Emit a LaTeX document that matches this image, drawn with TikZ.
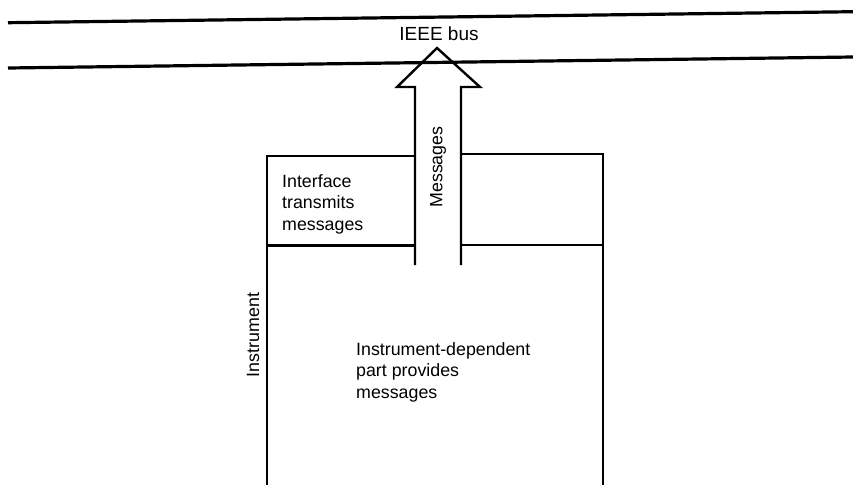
\documentclass[tikz,border=0pt]{standalone}
\usepackage{fontspec}
\setmainfont{Liberation Sans}
\usepackage{tikz}
\usetikzlibrary{positioning}

\begin{document}
\begin{tikzpicture}[
  x=1pt, y=-1pt,
  busline/.style={line width=3.2pt},
  wall/.style={line width=2.4pt, line join=miter},
  lbl/.style={align=left, inner sep=0pt, font=\fontsize{17.8}{21.6}\selectfont},
  vlbl/.style={lbl, rotate=90}
]
\useasboundingbox (0,0) rectangle (853,485);

% IEEE bus
\draw[busline] (8,22.7) -- (853,11.7);
\draw[busline] (8,68) -- (853,57);
\node[lbl, font=\fontsize{19}{22}\selectfont] (bus) at (439,34) {IEEE bus};

% message arrow up to the bus
\draw[wall] (415,265) -- (415,87) -- (397,87) -- (437,48) -- (480,87) -- (461,87) -- (461,265);
\node[vlbl] (msg) at (438,167) {Messages};

% instrument
\draw[wall] (415,156) -- (267,156) -- (267,485);
\draw[wall] (461,154) -- (603,154) -- (603,485);
\draw[wall] (267,245.5) -- (415,245.5);
\draw[wall] (461,245) -- (603,245);
\node[vlbl] (instr) at (253,335) {Instrument};

\node[lbl, anchor=north west] (iface) at (282,174) {Interface\\transmits\\messages};
\node[lbl, anchor=north west] (dep) at (356,342) {Instrument-dependent\\part provides\\messages};
\end{tikzpicture}
\end{document}
